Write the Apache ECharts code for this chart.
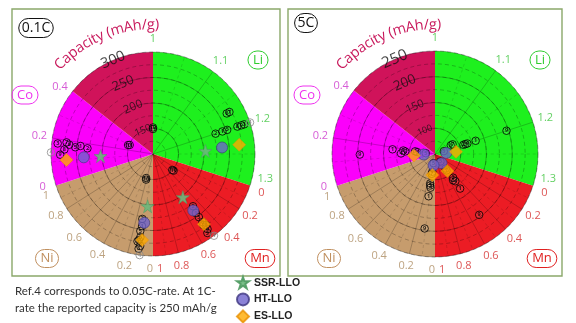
<!DOCTYPE html>
<html><head><meta charset="utf-8">
<script src="https://cdn.jsdelivr.net/npm/echarts@6.0.0/dist/echarts.min.js"></script>
<style>html,body{margin:0;padding:0;background:#fff}#c{width:576px;height:323px}</style>
</head><body><div id="c"></div>
<script>
// ---------------- DATA ----------------
const elements = ['Li', 'Mn', 'Ni', 'Co'];
const liTicks = ['1', '1.1', '1.2', '1.3'];
const mnTicks = ['0', '0.2', '0.4', '0.6', '0.8', '1'];
const niTicks = ['0', '0.2', '0.4', '0.6', '0.8', '1'];
const coTicks = ['0', '0.2', '0.4'];
const capTicks01 = [150, 200, 250, 300];
const capTicks5 = [100, 150, 200, 250];

// materials of this work
const seriesNames = ['SSR-LLO', 'HT-LLO', 'ES-LLO'];
const liValues = [1.241, 1.235, 1.233];
const mnValues = [0.519, 0.507, 0.500];
const niValues = [0.082, 0.101, 0.100];
const coValues = [0.116, 0.113, 0.104];
const capacity01C = [203, 236, 270];
const capacity5C = [null, 72, 91];

// literature references
const refIds   = [1, 2, 3, 4, 5, 6, 7, 8, 9, 10, 11];
const refLi    = [1.20, 1.20, 1.20, 1.20, 1.20, 1.17, 1.17, 1.20, 1.20, 1.00, 1.00];
const refMn    = [0.50, 0.48, 0.52, 0.49, 0.50, 0.50, 0.51, 0.49, 0.50, 0.29, 0.30];
const refNi    = [0.12, 0.13, 0.12, 0.105, 0.13, 0.12, 0.13, 0.14, 0.11, 0.21, 0.22];
const refCo    = [0.18, 0.17, 0.18, 0.14, 0.17, 0.18, 0.19, 0.155, 0.13, 0.28, 0.29];
const refCap01 = [243, 229, 288, 300, 253, 265, 271, 274, 282, 152, 149];
const refCap5  = [133, 108, 112, 116, 68, 85, 89, null, 196, null, null];

// ---------------- LAYOUT / STYLE ----------------
const sectorNames = ['Li', 'Mn', 'Ni', 'Co', 'Capacity'];
const sectorSpans = [108, 72, 72, 56, 52];
const sectorColors = ['#1ef01e', '#ec1c24', '#c69c6d', '#fb00fb', '#d0135a'];
const axisDefs = {
  Li: {a0: 0, a1: 108, v0: 1, v1: 1.3, ticks: liTicks, color: '#3cc43c', badge: '#2ecc2e'},
  Mn: {a0: 108, a1: 180, v0: 0, v1: 1, ticks: mnTicks, color: '#d42a2a', badge: '#e02020'},
  Ni: {a0: 180, a1: 252, v0: 0, v1: 1, ticks: niTicks, color: '#ad8c62', badge: '#c09060'},
  Co: {a0: 252, a1: 306, v0: 0, v1: 0.4, ticks: coTicks, color: '#cc33cc', badge: '#ee33ee'}
};
const values = {Li: liValues, Mn: mnValues, Ni: niValues, Co: coValues};
const refValues = {Li: refLi, Mn: refMn, Ni: refNi, Co: refCo};
function toAngle(el, v) { const d = axisDefs[el]; return d.a0 + (v - d.v0) / (d.v1 - d.v0) * (d.a1 - d.a0); }

const panels = [
  {center: [153, 154], R: 102, rMin: 100, rMax: 300, capTicks: capTicks01, caps: capacity01C, refCaps: refCap01,
   box: [12, 9, 268, 267], badge: '0.1C', badgePos: [36, 28], grayRef: 4, capLabelSizes: [10, 11.5, 13, 14.5]},
  {center: [435, 154], R: 103, rMin: 50, rMax: 250, capTicks: capTicks5, caps: capacity5C, refCaps: refCap5,
   box: [288, 9, 274, 267], badge: '5C', badgePos: [306, 23], grayRef: null, capLabelSizes: [9, 11, 13.5, 15.5]}
];
const badgeOffsets = {Li: [105, -94], Co: [-128, -59], Ni: [-106, 104.5], Mn: [107, 104.5]};
const FONT = '"Open Sans", sans-serif';
const starPath = 'path://M50,0 L61.2,34.5 L97.6,34.5 L68.2,55.9 L79.4,90.5 L50,69.1 L20.6,90.5 L31.8,55.9 L2.4,34.5 L38.8,34.5 Z';
const markerStyles = [
  {symbol: starPath, size: 13, itemStyle: {color: '#6cb87c', borderColor: '#4f9a62', borderWidth: 0.6, opacity: 0.9}},
  {symbol: 'circle', size: 11, itemStyle: {color: '#6e63cc', borderColor: '#3d3680', borderWidth: 0.8}},
  {symbol: 'diamond', size: 13, itemStyle: {color: '#ffaa00', borderColor: '#e89000', borderWidth: 0.6}}
];

// ---------------- BUILD ----------------
const polar = [], angleAxis = [], radiusAxis = [], series = [], graphic = [];
const canvas = document.createElement('canvas').getContext('2d');

panels.forEach((p, pi) => {
  const base = pi * 2;
  [0, 1].forEach(k => {
    polar.push({center: p.center, radius: p.R});
    angleAxis.push({polarIndex: base + k, type: 'value', min: 0, max: 360, startAngle: 90, clockwise: true,
      axisLine: {show: false}, axisTick: {show: false}, axisLabel: {show: false}, splitLine: {show: false}, z: 3});
    radiusAxis.push({polarIndex: base + k, type: 'value', min: p.rMin, max: p.rMax, interval: k === 0 ? 50 : 25,
      axisLine: {show: false}, axisTick: {show: false}, axisLabel: {show: false},
      splitLine: {show: true, lineStyle: k === 0 ? {color: 'rgba(0,0,0,0.3)', width: 0.8}
                                                 : {color: 'rgba(0,0,0,0.3)', width: 0.8, type: [4, 3]}}, z: 3});
  });

  // sectors
  series.push({type: 'pie', center: p.center, radius: [0, p.R], startAngle: 90, clockwise: true, silent: true,
    animation: false, z: 1, label: {show: false}, labelLine: {show: false}, emphasis: {disabled: true},
    itemStyle: {borderWidth: 0},
    data: sectorNames.map((n, i) => ({name: n, value: sectorSpans[i], itemStyle: {color: sectorColors[i]}}))});

  // radial grid lines from tick arrays
  const radial = [];
  elements.forEach(el => {
    const d = axisDefs[el];
    const tv = d.ticks.map(Number);
    tv.forEach((v, i) => {
      const a = toAngle(el, v);
      if (i > 0 && i < tv.length - 1) radial.push([p.rMax, a, 0]);
      if (i < tv.length - 1) radial.push([p.rMax, toAngle(el, (v + tv[i + 1]) / 2), 1]);
    });
  });
  series.push({type: 'custom', coordinateSystem: 'polar', polarIndex: base, silent: true, z: 3, animation: false, data: radial,
    renderItem: (params, api) => {
      const a = api.value(1), minor = api.value(2);
      const p0 = api.coord([minor ? p.rMin + 50 : p.rMin, a]);
      const p1 = api.coord([p.rMax, a]);
      return {type: 'line', shape: {x1: p0[0], y1: p0[1], x2: p1[0], y2: p1[1]},
        style: {stroke: minor ? 'rgba(0,0,0,0.16)' : 'rgba(0,0,0,0.26)', lineWidth: 0.8, lineDash: minor ? [3, 3] : null}};
    }});

  // angle tick labels
  const rLab = p.rMax + 13 / p.R * (p.rMax - p.rMin);
  const labData = [];
  elements.forEach(el => {
    const d = axisDefs[el];
    d.ticks.forEach((t, i) => {
      let a = toAngle(el, Number(t));
      if (i === 0 && el !== 'Li') a += 1.5;
      if (i === d.ticks.length - 1 && el !== 'Co') a -= (el === 'Li' ? 5.5 : 3.5);
      labData.push({name: t, value: [rLab, a], label: {color: d.color}});
    });
  });
  series.push({type: 'scatter', coordinateSystem: 'polar', polarIndex: base, silent: true, clip: false, z: 4, symbolSize: 1,
    itemStyle: {color: 'rgba(0,0,0,0)'}, animation: false,
    label: {show: true, position: 'inside', formatter: '{b}', fontSize: 11, fontFamily: FONT},
    data: labData});

  // capacity tick labels
  series.push({type: 'scatter', coordinateSystem: 'polar', polarIndex: base, silent: true, clip: false, z: 4, symbolSize: 1,
    itemStyle: {color: 'rgba(0,0,0,0)'}, animation: false,
    label: {show: true, position: 'inside', formatter: '{b}', fontFamily: FONT, color: '#111', rotate: 23},
    data: p.capTicks.map((v, i) => ({name: String(v), value: [v, 337], label: {fontSize: p.capLabelSizes[i]}}))});

  // literature references
  const refData = [];
  refIds.forEach((id, i) => {
    const c = p.refCaps[i];
    if (c == null) return;
    const gray = id === p.grayRef;
    elements.forEach(el => {
      const item = {name: String(id), value: [c, toAngle(el, refValues[el][i])]};
      if (gray) { item.itemStyle = {borderColor: '#888'}; item.label = {color: '#777'}; }
      refData.push(item);
    });
  });
  series.push({type: 'scatter', coordinateSystem: 'polar', name: 'refs', polarIndex: base, clip: false, z: 5,
    symbol: 'circle', symbolSize: 7.5, animation: false,
    itemStyle: {color: 'rgba(255,255,255,0.1)', borderColor: '#000', borderWidth: 1},
    label: {show: true, position: 'inside', formatter: '{b}', fontSize: 5.5, fontWeight: 'bold', color: '#000',
      fontFamily: FONT},
    data: refData});

  // this work's materials
  seriesNames.forEach((n, i) => {
    const c = p.caps[i];
    if (c == null) return;
    const ms = markerStyles[i];
    series.push({type: 'scatter', coordinateSystem: 'polar', name: n, polarIndex: base, clip: false, z: 6,
      symbol: ms.symbol, symbolSize: ms.size, itemStyle: ms.itemStyle, animation: false,
      data: elements.map(el => [c, toAngle(el, values[el][i])])});
  });

  // frame, badges
  graphic.push({type: 'rect', shape: {x: p.box[0], y: p.box[1], width: p.box[2], height: p.box[3]},
    style: {fill: 'none', stroke: '#8aa86a', lineWidth: 1.4}, silent: true, z: 0});
  graphic.push({type: 'text', x: p.badgePos[0], y: p.badgePos[1], silent: true, z: 10,
    style: {text: p.badge, fill: '#111', font: '14px ' + FONT, align: 'center', verticalAlign: 'middle',
      textAlign: 'center', textVerticalAlign: 'middle', borderColor: '#111', borderWidth: 1, borderRadius: 12,
      padding: [3, 3, 2, 3]}});
  Object.keys(badgeOffsets).forEach(el => {
    const o = badgeOffsets[el];
    graphic.push({type: 'text', x: p.center[0] + o[0], y: p.center[1] + o[1], silent: true, z: 10,
      style: {text: el, fill: axisDefs[el].badge, font: '13px ' + FONT, align: 'center', verticalAlign: 'middle',
        textAlign: 'center', textVerticalAlign: 'middle', borderColor: axisDefs[el].badge, borderWidth: 1,
        borderRadius: 10, padding: [3, 5, 2, 5]}});
  });

  // curved "Capacity (mAh/g)" title
  const title = 'Capacity (mAh/g)';
  const tFont = '14.5px ' + FONT;
  canvas.font = tFont;
  const rT = 129;
  let acc = 0;
  const startDeg = 312;
  for (const ch of title) {
    const w = canvas.measureText(ch).width;
    const mid = (startDeg * Math.PI / 180) + (acc + w / 2) / rT;
    acc += w;
    if (ch === ' ') continue;
    graphic.push({type: 'text', x: p.center[0] + rT * Math.sin(mid), y: p.center[1] - rT * Math.cos(mid),
      rotation: -mid, silent: true, z: 10,
      style: {text: ch, fill: '#c8195c', font: tFont, align: 'center', verticalAlign: 'middle',
        textAlign: 'center', textVerticalAlign: 'middle'}});
  }
});

// footnote
['Ref.4 corresponds to 0.05C-rate. At 1C-', 'rate the reported capacity is 250 mAh/g'].forEach((t, i) => {
  graphic.push({type: 'text', x: 15, y: 291 + i * 17, silent: true,
    style: {text: t, fill: '#333', font: '11.5px Lato, sans-serif', verticalAlign: 'middle', textVerticalAlign: 'middle'}});
});

const chart = echarts.init(document.getElementById('c'), null, {renderer: 'canvas'});
chart.setOption({
  animation: false,
  textStyle: {fontFamily: FONT},
  polar, angleAxis, radiusAxis, series, graphic,
  legend: {orient: 'vertical', left: 236, top: 276, height: 80, padding: 0, itemGap: 3, itemWidth: 12, itemHeight: 12,
    selectedMode: false,
    textStyle: {fontWeight: 'bold', fontSize: 10.5, lineHeight: 12, fontFamily: '"Liberation Sans", Arial, sans-serif', color: '#222'},
    data: [{name: 'SSR-LLO', icon: starPath}, {name: 'HT-LLO', icon: 'circle'}, {name: 'ES-LLO', icon: 'diamond'}]}
});
</script></body></html>
